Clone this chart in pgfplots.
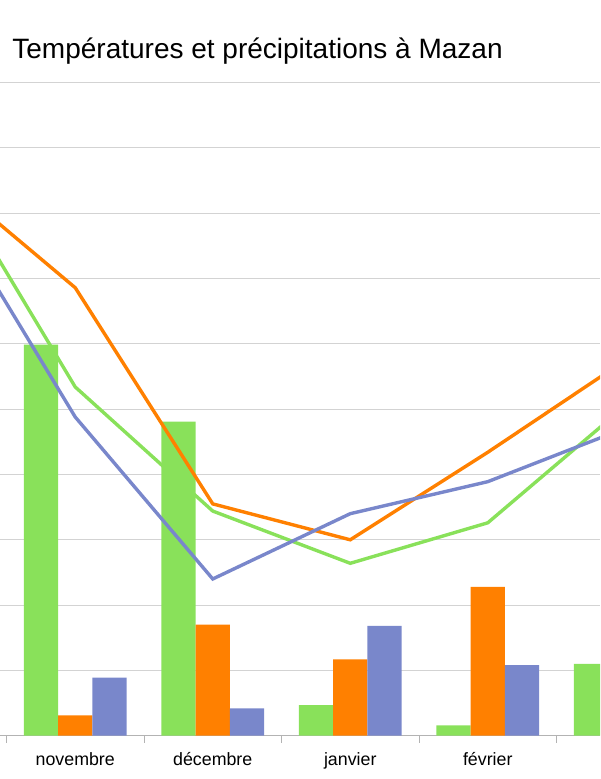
\documentclass[border=0pt]{standalone}
\usepackage{fontspec}
\setmainfont{Liberation Sans}
\usepackage{pgfplots}
\pgfplotsset{compat=1.18}

\definecolor{vert}{RGB}{137,225,90}
\definecolor{orangec}{RGB}{255,128,0}
\definecolor{bleu}{RGB}{121,135,203}
\definecolor{grille}{RGB}{211,211,211}
\definecolor{axe}{RGB}{179,179,179}

\begin{document}
\begin{tikzpicture}
\useasboundingbox (0,0) rectangle (600pt,779pt);
\node[anchor=base west, inner sep=0pt, font=\fontsize{28}{32}\selectfont] at (12.2pt,720pt) {Températures et précipitations à Mazan};
\begin{axis}[
  at={(0pt,43.3pt)}, anchor=south west,
  width=600pt, height=653pt, scale only axis,
  xmin=0.4527, xmax=4.8164,
  ymin=0, ymax=10,
  axis x line*=bottom, axis y line*=left,
  x axis line style={draw=axe, line width=1pt, -},
  y axis line style={draw=none},
  xtick={1,2,3,4},
  xticklabels={novembre,décembre,janvier,février},
  minor xtick={0.5,1.5,2.5,3.5,4.5},
  xtick style={draw=axe, line width=1pt},
  ytick style={draw=none},
  tick align=outside,
  major tick length=0pt, minor tick length=7pt,
  ytick={0,...,10}, yticklabels={},
  ymajorgrids, grid style={draw=grille, line width=1pt},
  xticklabel style={font=\fontsize{17.8}{20}\selectfont, anchor=base, yshift=-29.5pt, inner sep=0pt},
]
% precipitations
\addplot[ybar, bar width=34.3pt, bar shift=-34.3pt, fill=vert, draw=none]
  coordinates {(1,5.99) (2,4.81) (3,0.47) (4,0.16) (5,1.10)};
\addplot[ybar, bar width=34.3pt, bar shift=0pt, fill=orangec, draw=none]
  coordinates {(1,0.31) (2,1.70) (3,1.17) (4,2.28)};
\addplot[ybar, bar width=34.3pt, bar shift=34.3pt, fill=bleu, draw=none]
  coordinates {(1,0.89) (2,0.42) (3,1.68) (4,1.08)};
% temperatures
\addplot[vert, line width=3.4pt]
  coordinates {(0,8.85) (1,5.34) (2,3.44) (3,2.64) (4,3.26) (5,5.05)};
\addplot[orangec, line width=3.4pt]
  coordinates {(0,8.63) (1,6.86) (2,3.55) (3,3.00) (4,4.34) (5,5.75)};
\addplot[bleu, line width=3.4pt]
  coordinates {(0,8.36) (1,4.88) (2,2.40) (3,3.40) (4,3.89) (5,4.71)};
\end{axis}
\end{tikzpicture}
\end{document}
